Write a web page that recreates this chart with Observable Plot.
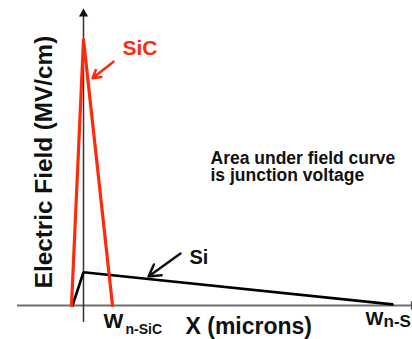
<!DOCTYPE html>
<html><head><meta charset="utf-8">
<script src="https://cdn.jsdelivr.net/npm/d3@7"></script>
<script src="https://cdn.jsdelivr.net/npm/@observablehq/plot@0.6"></script>
<style>
html,body{margin:0;padding:0;background:#fff;overflow:hidden;}
#chart svg{display:block;overflow:hidden;}
</style></head><body><div id="chart"></div>
<script>
// Electric field profiles (x in microns, arbitrary scale; field in MV/cm)
const sicX = [-1.2, 0, 2.9];
const sicE = [0, 2.4, 0];
const siX = [-1.1, 0, 30.9];
const siE = [0, 0.3, 0.01];
const sicLabel = "SiC";
const siLabel = "Si";
const yLabel = "Electric Field (MV/cm)";
const xLabel = "X (microns)";
const noteLines = ["Area under field curve", "is junction voltage"];
const wSymbol = "W";
const wSicSub = "n-SiC";
const wSiSub = "n-Si";

const RED = "#ff2a0a";
const FONT = "Liberation Sans, Arial, Helvetica, sans-serif";
const sic = sicX.map((x, i) => ({x, y: sicE[i]}));
const si = siX.map((x, i) => ({x, y: siE[i]}));

const txt = (t, x, y, size, opts = {}) => Plot.text([t], {
  x: () => x, y: () => y, text: d => d, fontSize: size, fontWeight: "bold",
  fontFamily: FONT, textAnchor: "start", lineAnchor: "bottom", fill: "#111", ...opts
});

const chart = Plot.plot({
  width: 412, height: 339,
  margin: 0,
  x: {domain: [-8.3, 32.9], axis: null},
  y: {domain: [-0.3068, 2.752], axis: null},
  marks: [
    Plot.ruleY([0], {x1: -6.6, x2: 32.8, stroke: "#6e6e6e", strokeWidth: 2}),
    Plot.ruleX([0], {y1: -0.153, y2: 2.62, stroke: "#333", strokeWidth: 1.5}),
    Plot.dot([0], {x: () => 0, y: () => 2.632, symbol: "triangle2", r: 4.4, fill: "#111", stroke: null}),
    Plot.dot([0], {x: () => 33.0, y: () => 0, symbol: "triangle2", r: 4.4, fill: "#555", stroke: null, rotate: 90}),
    Plot.line(si, {x: "x", y: "y", stroke: "#000", strokeWidth: 2.6}),
    Plot.line(sic, {x: "x", y: "y", stroke: RED, strokeWidth: 3.2}),
    Plot.arrow([0], {x1: () => 3.0, y1: () => 2.20, x2: () => 0.9, y2: () => 2.05, stroke: RED, strokeWidth: 2.5, headLength: 8}),
    Plot.arrow([0], {x1: () => 9.7, y1: () => 0.469, x2: () => 6.5, y2: () => 0.262, stroke: "#111", strokeWidth: 2.5, headLength: 9}),
    txt(sicLabel, 3.9, 2.256, 21, {fill: RED}),
    txt(siLabel, 10.6, 0.37, 20),
    Plot.text(noteLines, {x: () => 12.7, y: (d, i) => 1.281 - i * 0.156, text: d => d, fontSize: 17.5, fontWeight: "bold",
      fontFamily: FONT, textAnchor: "start", lineAnchor: "bottom", fill: "#111"}),
    Plot.text([yLabel], {x: () => -3.96, y: () => 1.295, text: d => d, rotate: -90, fontSize: 24.3, fontWeight: "bold",
      fontFamily: FONT, fill: "#111"}),
    txt(xLabel, 10.2, -0.253, 23),
    txt(wSymbol, 2.0, -0.2075, 21),
    txt(wSicSub, 4.2, -0.253, 14),
    txt(wSymbol, 28.2, -0.18, 19),
    txt(wSiSub, 30.0, -0.1985, 17)
  ]
});
document.getElementById("chart").append(chart);
</script></body></html>
